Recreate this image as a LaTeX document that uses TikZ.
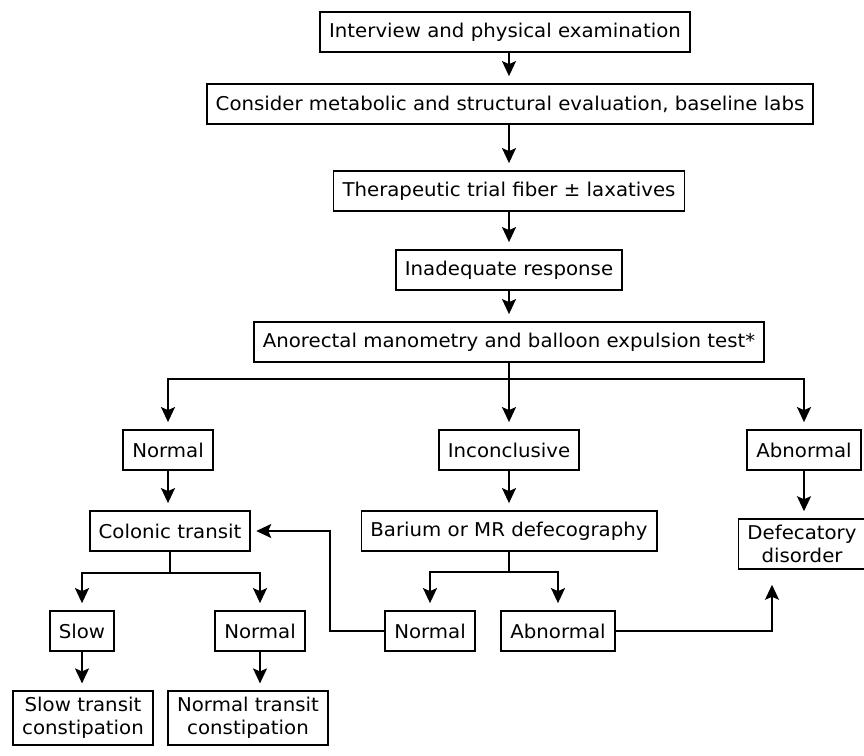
\documentclass[tikz,border=0pt]{standalone}
\usepackage{fontspec}
\setmainfont[FakeStretch=1.04]{DejaVu Sans}
\usetikzlibrary{arrows.meta, positioning, calc}
\tikzset{
  box/.style={rectangle, draw, line width=1.8pt, align=center,
    minimum height=40pt, inner xsep=9pt, inner ysep=6pt,
    font=\fontsize{19}{23}\selectfont},
  arrow/.style={-{Stealth[length=15pt,width=14pt,inset=3pt]}, line width=1.8pt, shorten >=7pt},
  line/.style={line width=1.8pt}
}

\begin{document}
\begin{tikzpicture}[x=1pt,y=-1pt]
  \useasboundingbox (0,0) rectangle (864,755);
  \node[box] (interview) at (505,32) {Interview and physical examination};
  \node[box] (evaluation) at (510,104) {Consider metabolic and structural evaluation, baseline labs};
  \node[box] (trial) at (509,191) {Therapeutic trial fiber ± laxatives};
  \node[box] (response) at (509,270) {Inadequate response};
  \node[box] (manometry) at (509,342) {Anorectal manometry and balloon expulsion test*};
  \node[box] (normal) at (168,450) {Normal};
  \node[box] (inconclusive) at (509,450) {Inconclusive};
  \node[box] (abnormal) at (804,450) {Abnormal};
  \node[box] (colonic) at (170,531) {Colonic transit};
  \node[box] (defecography) at (509,531) {Barium or MR defecography};
  \node[box] (disorder) at (802,544) {Defecatory\\disorder};
  \node[box] (slow) at (82,631) {Slow};
  \node[box] (normaltransit) at (260,631) {Normal};
  \node[box] (defnormal) at (430,631) {Normal};
  \node[box] (defabnormal) at (558,631) {Abnormal};
  \node[box] (slowcon) at (83,718) {Slow transit\\constipation};
  \node[box] (normalcon) at (248,718) {Normal transit\\constipation};
  \coordinate (bend) at (330,531);

  \draw[arrow] (interview.south -| response) -- (evaluation.north -| response);
  \draw[arrow] (evaluation.south -| response) -- (trial.north -| response);
  \draw[arrow] (trial) -- (response);
  \draw[arrow] (response) -- (manometry);
  \draw[line] (manometry.south) -- ++(0,16) coordinate (split);
  \draw[arrow] (split) -| (normal);
  \draw[arrow] (split) -- (inconclusive);
  \draw[arrow] (split) -| (abnormal);
  \draw[arrow] (normal.south) -- (normal.south |- colonic.north);
  \draw[arrow] (inconclusive) -- (defecography);
  \draw[arrow] (abnormal) -- (abnormal |- disorder.north);
  \draw[line] (colonic.south) -- ++(0,21) coordinate (split2);
  \draw[arrow] (split2) -| (slow);
  \draw[arrow] (split2) -| (normaltransit);
  \draw[line] (defecography.south) -- ++(0,20) coordinate (split3);
  \draw[arrow] (split3) -| (defnormal);
  \draw[arrow] (split3) -| (defabnormal);
  \draw[arrow] (slow) -- (slow |- slowcon.north);
  \draw[arrow] (normaltransit) -- (normaltransit |- normalcon.north);
  \draw[arrow, shorten >=5pt] (defnormal.west) -| (bend) -- (colonic.east);
  \draw[arrow, shorten >=15pt] (defabnormal.east) -| ($(disorder.south)+(-30,0)$);
\end{tikzpicture}
\end{document}
